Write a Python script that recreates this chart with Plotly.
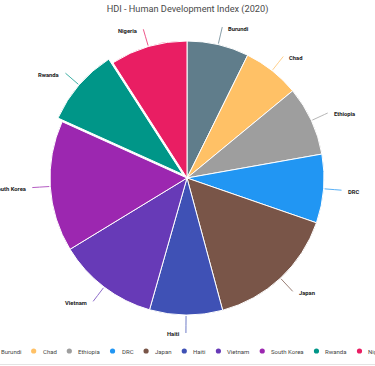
import math
import plotly.graph_objects as go

# ---------------- data ----------------
countries = ["Burundi", "Chad", "Ethiopia", "DRC", "Japan", "Haiti",
             "Vietnam", "South Korea", "Rwanda", "Nigeria"]
hdi_2020 = [0.433, 0.398, 0.485, 0.480, 0.919, 0.510, 0.704, 0.916, 0.543, 0.539]
slice_colors = ["#607D8B", "#FFC166", "#9E9E9E", "#2196F3", "#795548",
                "#3F51B5", "#673AB7", "#9C27B0", "#009688", "#E91E63"]
slice_pull = [0, 0, 0, 0, 0, 0, 0, 0, 0.04, 0]
chart_title = "HDI - Human Development Index (2020)"

# ---------------- layout geometry (pixels) ----------------
W, H = 375, 366
CX, CY, R = 187.0, 178.0, 137.0
LABEL_R = 155.0
FONT = "Roboto, 'Noto Sans', sans-serif"


def px(x):
    return x / W


def py(y):
    return 1 - y / H


max_pull = max(slice_pull)
half = R * (1 + max_pull)
dom_x = [px(CX - half), px(CX + half)]
dom_y = [py(CY + half), py(CY - half)]

fig = go.Figure()
fig.add_trace(go.Pie(
    labels=countries,
    values=hdi_2020,
    sort=False,
    direction="clockwise",
    rotation=0,
    pull=slice_pull,
    marker=dict(colors=slice_colors, line=dict(color="#ffffff", width=1)),
    textinfo="none",
    hoverinfo="label+value+percent",
    showlegend=False,
    domain=dict(x=dom_x, y=dom_y),
))

shapes = []
annotations = []

# ---------------- outside labels with connector ticks ----------------
total = sum(hdi_2020)
cum = 0.0
for name, val, col, pl in zip(countries, hdi_2020, slice_colors, slice_pull):
    mid = (cum + val / 2) / total * 2 * math.pi
    cum += val
    ux, uy = math.sin(mid), -math.cos(mid)
    ox, oy = pl * R * ux, pl * R * uy
    sx, sy = CX + (R + 1) * ux + ox, CY + (R + 1) * uy + oy
    cx_, cy_ = CX + (R + 12) * ux + ox, CY + (R + 12) * uy + oy
    ex, ey = CX + LABEL_R * ux + ox, CY + LABEL_R * uy + oy
    side = 1 if ux >= 0 else -1
    shapes.append(dict(
        type="path", xref="paper", yref="paper",
        path=f"M {px(sx)} {py(sy)} Q {px(cx_)} {py(cy_)} {px(ex)} {py(ey)}",
        line=dict(color=col, width=1), opacity=0.75, layer="above",
    ))
    annotations.append(dict(
        x=px(ex + side * 4), y=py(ey + 1.5), xref="paper", yref="paper",
        text=f"<b>{name}</b>", showarrow=False,
        xanchor="left" if side > 0 else "right", yanchor="middle",
        font=dict(family=FONT, size=5.8, color="#1a1a1a"),
    ))

# ---------------- single-row legend (centered, overflowing) ----------------
ROBOTO_W = {" ": 507, "a": 1088, "B": 1273, "C": 1337, "D": 1343, "d": 1128,
            "e": 1063, "E": 1165, "g": 1124, "H": 1426, "h": 1104, "i": 486,
            "J": 1119, "K": 1283, "m": 1753, "N": 1426, "n": 1106, "o": 1142,
            "p": 1124, "R": 1258, "r": 678, "S": 1231, "t": 654, "u": 1105,
            "V": 1302, "w": 1508}
LEG_FS = 6.0


def text_w(s, fs):
    return sum(ROBOTO_W.get(c, 1100) for c in s) / 2048 * fs


DOT_R, DOT_TXT, ITEM_GAP = 2.6, 7.0, 15.0
widths = [text_w(c, LEG_FS) for c in countries]
span = sum(DOT_TXT + w for w in widths) + ITEM_GAP * (len(countries) - 1) + DOT_R
x = CX - span / 2 + DOT_R
LEG_Y = 351.0
for name, col, w in zip(countries, slice_colors, widths):
    shapes.append(dict(
        type="circle", xref="paper", yref="paper",
        x0=px(x - DOT_R), x1=px(x + DOT_R), y0=py(LEG_Y + DOT_R), y1=py(LEG_Y - DOT_R),
        fillcolor=col, line=dict(width=0),
    ))
    annotations.append(dict(
        x=px(x + DOT_TXT), y=py(LEG_Y), xref="paper", yref="paper",
        text=name, showarrow=False, xanchor="left", yanchor="middle",
        font=dict(family=FONT, size=LEG_FS, color="#444444"),
    ))
    x += DOT_TXT + w + ITEM_GAP

# bottom separator line
shapes.append(dict(type="line", xref="paper", yref="paper",
                   x0=0, x1=1, y0=py(364.5), y1=py(364.5),
                   line=dict(color="#e3e3e3", width=1)))

fig.update_layout(
    width=W, height=H, autosize=False,
    margin=dict(l=0, r=0, t=0, b=0),
    paper_bgcolor="#ffffff", plot_bgcolor="#ffffff",
    title=dict(text=chart_title, x=0.5, xanchor="center", y=1 - 9 / H,
               yanchor="middle", yref="container",
               font=dict(family=FONT, size=9.2, color="#4a4a4a")),
    shapes=shapes,
    annotations=annotations,
    showlegend=False,
)

fig.write_html("out.html")
